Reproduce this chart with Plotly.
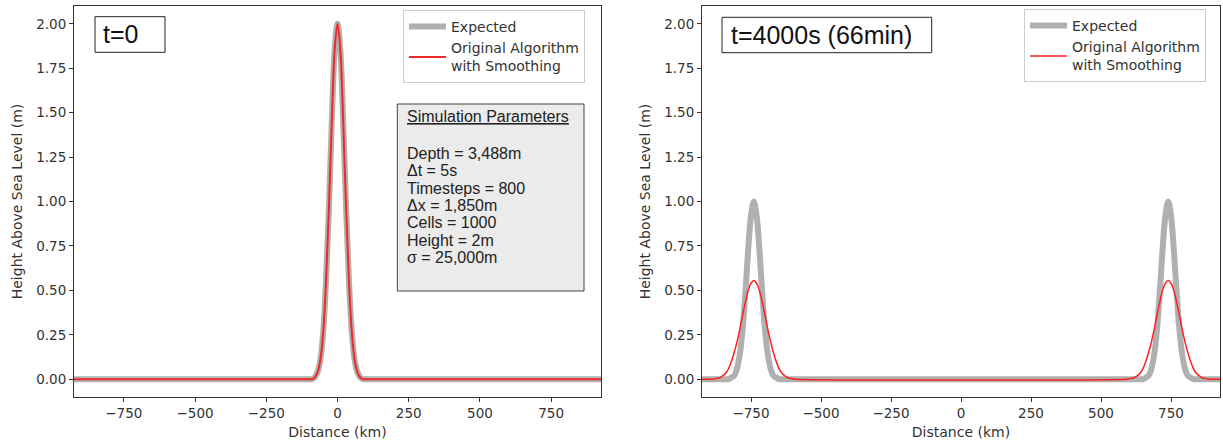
import plotly.graph_objects as go

# ---------------- data ----------------
# Left panel, t = 0
t0_distance_km = [-925, -100, -90, -80, -70, -60, -50, -40, -30, -20, -10, 0,
                  10, 20, 30, 40, 50, 60, 70, 80, 90, 100, 925]
expected_t0_m = [0, 0, 0, 0.01, 0.04, 0.11, 0.27, 0.56, 0.97, 1.45, 1.85, 2.00,
                 1.85, 1.45, 0.97, 0.56, 0.27, 0.11, 0.04, 0.01, 0, 0, 0]
smoothed_t0_m = [0, 0, 0, 0.01, 0.04, 0.11, 0.27, 0.56, 0.97, 1.45, 1.85, 2.00,
                 1.85, 1.45, 0.97, 0.56, 0.27, 0.11, 0.04, 0.01, 0, 0, 0]

# Right panel, t = 4000 s : two identical travelling waves
wave_centres_km = [-740, 740]
wave_offsets_km = [-150, -140, -130, -120, -110, -100, -90, -80, -70, -60, -50, -40,
                   -30, -20, -10, 0, 10, 20, 30, 40, 50, 60, 70, 80, 90, 100, 110,
                   120, 130, 140, 150]
expected_wave_m = [0, 0, 0, 0, 0, 0, 0, 0.01, 0.02, 0.06, 0.14, 0.28, 0.49, 0.73,
                   0.92, 1.00, 0.92, 0.73, 0.49, 0.28, 0.14, 0.06, 0.02, 0.01,
                   0, 0, 0, 0, 0, 0, 0]
smoothed_wave_m = [0.00, 0.002, 0.005, 0.01, 0.02, 0.035, 0.06, 0.10, 0.15, 0.21,
                   0.28, 0.36, 0.435, 0.50, 0.54, 0.555, 0.54, 0.50, 0.435, 0.36,
                   0.28, 0.21, 0.15, 0.10, 0.06, 0.035, 0.02, 0.01, 0.005, 0.002, 0.00]
domain_edges_km = [-925, 925]

x_ticks = [-750, -500, -250, 0, 250, 500, 750]
y_ticks = [0, 0.25, 0.5, 0.75, 1.0, 1.25, 1.5, 1.75, 2.0]

panel_labels = ["t=0", "t=4000s (66min)"]
series_names = ["Expected", "Original Algorithm<br>with Smoothing"]
param_title = "Simulation Parameters"
param_lines = ["Depth = 3,488m", "\u0394t = 5s", "Timesteps = 800", "\u0394x = 1,850m",
               "Cells = 1000", "Height = 2m", "\u03c3 = 25,000m"]

# ---------------- build right-panel series ----------------
x_wave = [domain_edges_km[0]]
y_exp_wave = [0]
y_sm_wave = [0]
for c in wave_centres_km:
    for o, e, s in zip(wave_offsets_km, expected_wave_m, smoothed_wave_m):
        x_wave.append(c + o)
        y_exp_wave.append(e)
        y_sm_wave.append(s)
x_wave.append(domain_edges_km[1])
y_exp_wave.append(0)
y_sm_wave.append(0)

# ---------------- figure ----------------
W, H = 1223, 445
ML, MR, MT, MB = 74, 3, 6, 48
PW = W - ML - MR
GRAY = "#b0b0b0"
RED = "#ff2020"
TXT = "#333333"
TICKFONT = dict(family="DejaVu Sans", size=13.5, color=TXT)
TITLEFONT = dict(family="DejaVu Sans", size=14, color=TXT)

fig = go.Figure()
fig.add_trace(go.Scatter(x=t0_distance_km, y=expected_t0_m, mode="lines",
                         name=series_names[0],
                         line=dict(color=GRAY, width=6, shape="spline"),
                         xaxis="x", yaxis="y", legend="legend"))
fig.add_trace(go.Scatter(x=t0_distance_km, y=smoothed_t0_m, mode="lines",
                         name=series_names[1],
                         line=dict(color="#ee2a2a", width=2, shape="spline"),
                         xaxis="x", yaxis="y", legend="legend"))
fig.add_trace(go.Scatter(x=x_wave, y=y_exp_wave, mode="lines",
                         name=series_names[0],
                         line=dict(color=GRAY, width=6, shape="spline"),
                         xaxis="x2", yaxis="y2", legend="legend2"))
fig.add_trace(go.Scatter(x=x_wave, y=y_sm_wave, mode="lines",
                         name=series_names[1],
                         line=dict(color=RED, width=1.5, shape="spline"),
                         xaxis="x2", yaxis="y2", legend="legend2"))

left_px = (74, 601)
right_px = (702, 1220)
dom1 = [(left_px[0] - ML) / PW, (left_px[1] - ML) / PW]
dom2 = [(right_px[0] - ML) / PW, (right_px[1] - ML) / PW]

axis_common = dict(showline=True, mirror=True, linecolor="#333333", linewidth=1,
                   ticks="outside", ticklen=4, tickcolor="#333333", showgrid=False,
                   zeroline=False, tickfont=TICKFONT)
xcommon = dict(axis_common, range=domain_edges_km, tickvals=x_ticks,
               title=dict(text="Distance (km)", font=TITLEFONT, standoff=6))
ycommon = dict(axis_common, range=[-0.1, 2.1], tickvals=y_ticks, tickformat=".2f",
               title=dict(text="Height Above Sea Level (m)", font=TITLEFONT, standoff=10))

LEGFONT = dict(family="DejaVu Sans", size=14, color=TXT)
fig.update_layout(
    width=W, height=H,
    margin=dict(l=ML, r=MR, t=MT, b=MB),
    paper_bgcolor="white", plot_bgcolor="white",
    xaxis=dict(xcommon, domain=dom1, anchor="y"),
    yaxis=dict(ycommon, domain=[0, 1], anchor="x"),
    xaxis2=dict(xcommon, domain=dom2, anchor="y2"),
    yaxis2=dict(ycommon, domain=[0, 1], anchor="x2"),
    legend=dict(x=(585 - ML) / PW, y=(H - MB - 10) / (H - MB - MT), xanchor="right",
                yanchor="top", bgcolor="rgba(255,255,255,0.85)", bordercolor="#cccccc",
                borderwidth=1, font=LEGFONT, itemwidth=37),
    legend2=dict(x=(1206 - ML) / PW, y=(H - MB - 9) / (H - MB - MT), xanchor="right",
                 yanchor="top", bgcolor="rgba(255,255,255,0.85)", bordercolor="#cccccc",
                 borderwidth=1, font=LEGFONT, itemwidth=37),
    showlegend=True,
)

PH = H - MB - MT
def ydom(py):
    return (H - MB - py) / PH

def xd1(px):
    return (px - left_px[0]) / (left_px[1] - left_px[0])

def xd2(px):
    return (px - right_px[0]) / (right_px[1] - right_px[0])

# time label boxes
fig.add_shape(type="rect", xref="x domain", yref="y domain",
              x0=xd1(95), x1=xd1(165), y0=ydom(52.3), y1=ydom(16.7),
              line=dict(color="#222222", width=1), fillcolor="white")
fig.add_annotation(xref="x domain", yref="y domain", x=xd1(101), y=ydom(34.5),
                   xanchor="left", yanchor="middle", showarrow=False, text=panel_labels[0],
                   font=dict(family="Liberation Sans", size=25, color="#111111"))
fig.add_shape(type="rect", xref="x2 domain", yref="y2 domain",
              x0=xd2(722), x1=xd2(931.7), y0=ydom(52.7), y1=ydom(17.3),
              line=dict(color="#222222", width=1), fillcolor="white")
fig.add_annotation(xref="x2 domain", yref="y2 domain", x=xd2(729), y=ydom(35),
                   xanchor="left", yanchor="middle", showarrow=False, text=panel_labels[1],
                   font=dict(family="Liberation Sans", size=25, color="#111111"))

# simulation parameters box
fig.add_shape(type="rect", xref="x domain", yref="y domain",
              x0=xd1(397.3), x1=xd1(584), y0=ydom(291), y1=ydom(104),
              line=dict(color="#444444", width=1), fillcolor="#ebebeb")
PFONT = dict(family="Liberation Sans", size=16, color="#222222")
fig.add_annotation(xref="x domain", yref="y domain", x=xd1(405), y=ydom(116.7),
                   xanchor="left", yanchor="middle", showarrow=False,
                   text="<u>" + param_title + "</u>", font=PFONT)
for i, line in enumerate(param_lines):
    fig.add_annotation(xref="x domain", yref="y domain", x=xd1(405),
                       y=ydom(153.3 + i * 17.4), xanchor="left", yanchor="middle",
                       showarrow=False, text=line, font=PFONT)

fig.write_html("out.html")
